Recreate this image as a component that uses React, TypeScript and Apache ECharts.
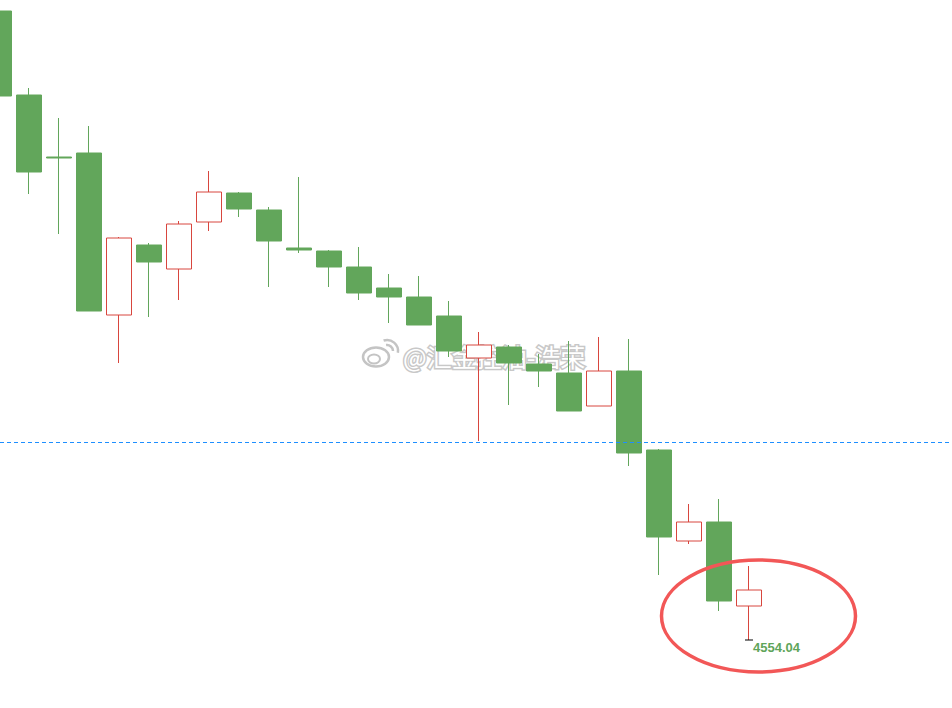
import React, { useEffect, useRef } from "react";
import * as echarts from "echarts";

// Category slots (26 candles + empty space on the right)
const categories: string[] = [
  "K01", "K02", "K03", "K04", "K05", "K06", "K07", "K08", "K09", "K10",
  "K11", "K12", "K13", "K14", "K15", "K16", "K17", "K18", "K19", "K20",
  "K21", "K22", "K23", "K24", "K25", "K26", "K27", "K28", "K29", "K30",
  "K31", "K32", "K33",
];

// OHLC values, one entry per candle
const opens: number[] = [
  4868.54, 4826.54, 4795.54, 4797.54, 4716.54, 4751.54, 4739.54, 4763.04, 4777.54, 4769.04,
  4750.04, 4748.54, 4740.54, 4730.04, 4725.54, 4716.04, 4695.04, 4700.54, 4692.04, 4687.54,
  4671.04, 4688.54, 4649.04, 4603.54, 4613.04, 4571.04,
];
const closes: number[] = [
  4826.04, 4788.04, 4795.04, 4718.54, 4755.04, 4743.04, 4762.04, 4778.04, 4769.54, 4753.54,
  4749.04, 4740.54, 4727.54, 4725.54, 4711.54, 4698.54, 4701.54, 4692.54, 4688.54, 4668.54,
  4688.54, 4647.54, 4605.54, 4613.04, 4573.54, 4579.04,
];
const lows: number[] = [
  4824.04, 4777.04, 4757.04, 4718.54, 4692.54, 4715.54, 4724.04, 4758.54, 4765.54, 4730.54,
  4747.54, 4730.54, 4724.04, 4712.54, 4711.54, 4695.54, 4653.54, 4671.54, 4680.54, 4668.54,
  4671.04, 4641.04, 4586.54, 4602.04, 4568.54, 4554.04,
];
const highs: number[] = [
  4878.04, 4830.04, 4815.04, 4811.04, 4755.54, 4752.54, 4763.54, 4788.54, 4778.04, 4770.54,
  4785.54, 4749.04, 4750.54, 4737.04, 4736.04, 4723.54, 4708.04, 4701.54, 4697.04, 4703.54,
  4705.54, 4704.54, 4649.54, 4622.04, 4624.54, 4591.04,
];

const referenceLevel: number = 4653.29;
const lowLabel: string = "4554.04";
const lowIndex: number = 25;
const lowValue: number = 4554.04;
const yMin: number = 4520.04;
const yMax: number = 4874.04;

const watermark: string = "@汇金控油-浩荣";

export default function App() {
  const ref = useRef<HTMLDivElement>(null);

  useEffect(() => {
    if (!ref.current) return;
    const chart = echarts.init(ref.current, undefined, { renderer: "svg" });
    const data = opens.map((o, i) => [o, closes[i], lows[i], highs[i]]);

    chart.setOption({
      animation: false,
      backgroundColor: "#ffffff",
      grid: {
        left: -16,
        top: 0,
        width: 990,
        height: 708,
        outerBoundsMode: "none",
        containLabel: false,
      },
      xAxis: {
        type: "category",
        data: categories,
        boundaryGap: true,
        show: false,
      },
      yAxis: {
        type: "value",
        min: yMin,
        max: yMax,
        show: false,
        splitLine: { show: false },
      },
      series: [
        {
          type: "candlestick",
          data,
          barWidth: 25,
          clip: false,
          itemStyle: {
            color: "#ffffff",
            borderColor: "#d8463e",
            color0: "#62a65b",
            borderColor0: "#62a65b",
            borderWidth: 1,
          },
          markPoint: {
            silent: true,
            data: [
              {
                coord: [lowIndex, lowValue],
                symbol: "rect",
                symbolSize: [8, 1],
                itemStyle: { color: "#000000" },
                label: {
                  show: true,
                  formatter: lowLabel,
                  position: "right",
                  offset: [-5, 7],
                  color: "#5fa55a",
                  fontSize: 13,
                  fontWeight: "bold",
                  fontFamily: "Liberation Sans, Arial, sans-serif",
                },
              },
            ],
          },
        },
      ],
    });

    const yRef = chart.convertToPixel({ yAxisIndex: 0 }, referenceLevel) as number;
    const yPix = Math.round(yRef) + 0.5;

    chart.setOption({
      graphic: [
        {
          type: "line",
          silent: true,
          z: 15,
          shape: { x1: 0, y1: yPix, x2: 952, y2: yPix },
          style: { stroke: "#1e8fff", lineWidth: 1.2, lineDash: [4, 3] },
        },
        {
          type: "ellipse",
          shape: { cx: 758.5, cy: 616, rx: 97, ry: 56 },
          style: { fill: "none", stroke: "#f25757", lineWidth: 3.5 },
          z: 20,
        },
        {
          type: "group",
          z: 30,
          children: [
            {
              type: "ellipse",
              shape: { cx: 376, cy: 357, rx: 13, ry: 9.5 },
              style: { fill: "#ffffff", stroke: "#c4c4c4", lineWidth: 2.5 },
            },
            {
              type: "ellipse",
              shape: { cx: 374, cy: 359, rx: 6, ry: 4.5 },
              style: { fill: "#ffffff", stroke: "#c4c4c4", lineWidth: 2 },
            },
            {
              type: "arc",
              shape: { cx: 387, cy: 351, r: 6, startAngle: -Math.PI * 0.55, endAngle: 0 },
              style: { fill: "none", stroke: "#c4c4c4", lineWidth: 2.5 },
            },
            {
              type: "arc",
              shape: { cx: 387, cy: 351, r: 11, startAngle: -Math.PI * 0.6, endAngle: Math.PI * 0.05 },
              style: { fill: "none", stroke: "#c4c4c4", lineWidth: 2.5 },
            },
            {
              type: "text",
              x: 403,
              y: 356,
              style: {
                text: watermark,
                fill: "#ffffff",
                stroke: "#c8c8c8",
                lineWidth: 3,
                strokeFirst: true,
                font: '25px "Noto Sans CJK SC", sans-serif',
                verticalAlign: "middle",
                textAlign: "left",
                shadowBlur: 3,
                shadowColor: "rgba(0,0,0,0.2)",
              },
            },
          ],
        },
      ],
    });

    return () => chart.dispose();
  }, []);

  return (
    <div
      ref={ref}
      style={{ position: "fixed", left: 0, top: 0, width: 952, height: 708 }}
    />
  );
}
